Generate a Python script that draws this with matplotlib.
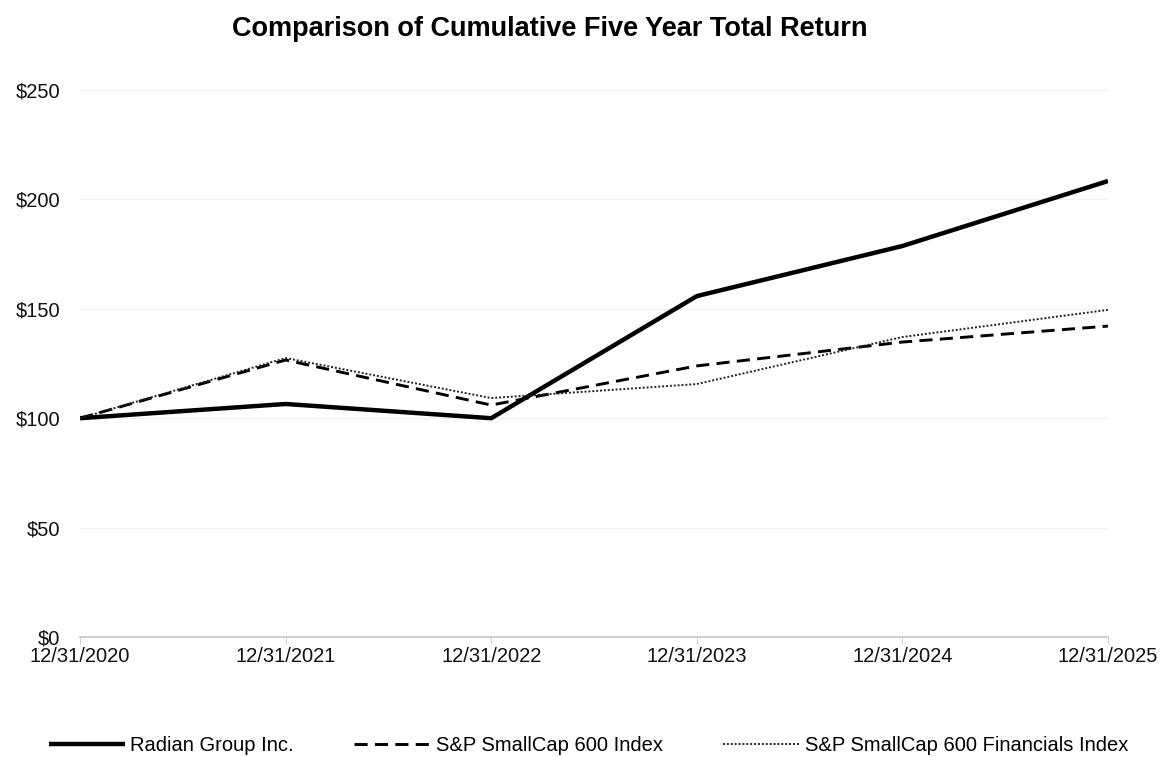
import matplotlib.pyplot as plt

# Data
years = ["12/31/2020", "12/31/2021", "12/31/2022", "12/31/2023", "12/31/2024", "12/31/2025"]
radian = [100, 106.5, 100, 155.8, 178.7, 208.4]
sp600 = [100, 126.6, 106, 123.9, 134.8, 142.1]
sp600_fin = [100, 127.5, 109.2, 115.6, 137.1, 149.5]
y_ticks = [0, 50, 100, 150, 200, 250]

plt.rcParams['font.family'] = ['Liberation Sans', 'DejaVu Sans']

fig = plt.figure(figsize=(11.63, 7.57), dpi=100)
ax = fig.add_axes([80 / 1163, 1 - 637 / 757, 1028 / 1163, 547 / 757])

x = range(len(years))
ax.plot(x, radian, color="black", lw=3.2, solid_capstyle="butt", label="Radian Group Inc.")
ax.plot(x, sp600, color="black", lw=2.1, dashes=(4.5, 2.5), label="S&P SmallCap 600 Index")
ax.plot(x, sp600_fin, color="#222222", lw=1.4, dashes=(1, 1), label="S&P SmallCap 600 Financials Index")

ax.set_xlim(0, len(years) - 1)
ax.set_ylim(0, 250)
ax.set_yticks(y_ticks)
ax.set_yticklabels([f"${v}" for v in y_ticks], fontsize=14.5, color="#111111")
ax.set_xticks(list(x))
ax.set_xticklabels(years, fontsize=14.5, color="#111111")

ax.grid(axis="y", color="#f0f0f0", lw=1)
ax.set_axisbelow(True)
for s in ["top", "right", "left"]:
    ax.spines[s].set_visible(False)
ax.spines["bottom"].set_color("#d0d0d0")
ax.spines["bottom"].set_linewidth(1.5)
ax.tick_params(axis="y", length=0, pad=14)
ax.tick_params(axis="x", length=5, color="#d0d0d0", pad=2)

fig.text(0.473, 0.962, "Comparison of Cumulative Five Year Total Return",
         ha="center", va="center", fontsize=19.5, fontweight="bold")

fig.legend(loc="center", bbox_to_anchor=(0.506, 0.015), ncol=3, frameon=False,
           fontsize=14.5, handlelength=3.8, handletextpad=0.25, columnspacing=3.0)

fig.savefig("out.png", dpi=100)
